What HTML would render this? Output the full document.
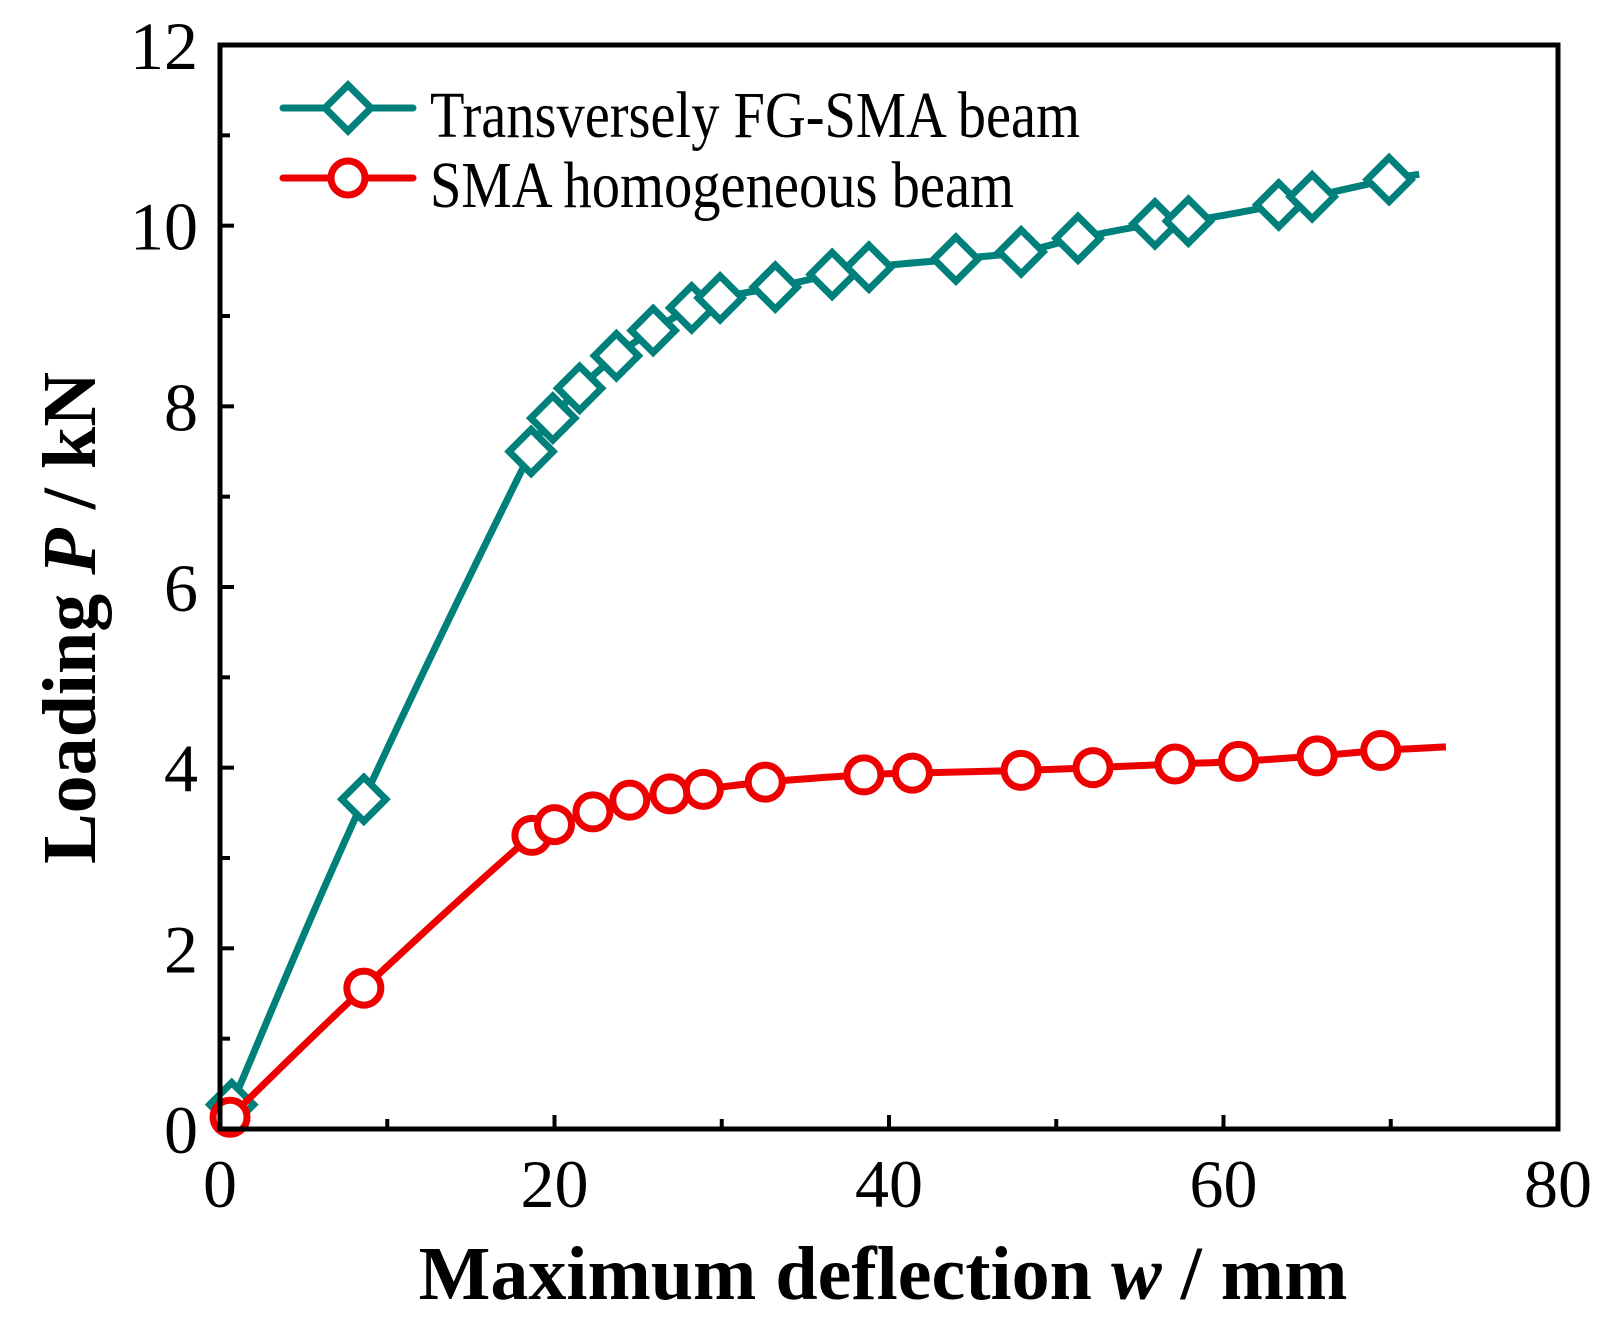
<!DOCTYPE html>
<html><head><meta charset="utf-8"><style>
body{margin:0;background:#fff}
svg text{font-family:"Liberation Serif",serif}
</style></head><body>
<svg id="chart" width="1612" height="1334" viewBox="0 0 1612 1334" xmlns="http://www.w3.org/2000/svg">
<g id="plot"></g>
<rect x="220" y="45" width="1338" height="1084" fill="none" stroke="#000" stroke-width="5"/>
<g id="axes"></g>
<text transform="translate(95,618) rotate(-90)" text-anchor="middle" font-size="76" font-weight="bold">Loading <tspan font-style="italic">P</tspan> / kN</text>
<text x="883" y="1299" text-anchor="middle" font-size="76" font-weight="bold">Maximum deflection <tspan font-style="italic">w</tspan> / mm</text>
<g>
<line x1="283" y1="108" x2="413" y2="108" stroke="#00807a" stroke-width="7" stroke-linecap="round"/>
<polygon points="348,85 371,108 348,131 325,108" fill="#fff" stroke="#00807a" stroke-width="7"/>
<text x="430" y="137" font-size="66" textLength="650" lengthAdjust="spacingAndGlyphs">Transversely FG-SMA beam</text>
<line x1="283" y1="178" x2="413" y2="178" stroke="#ee0000" stroke-width="7" stroke-linecap="round"/>
<circle cx="348" cy="178" r="17" fill="#fff" stroke="#ee0000" stroke-width="7"/>
<text x="430" y="207" font-size="66" textLength="584" lengthAdjust="spacingAndGlyphs">SMA homogeneous beam</text>
</g>
</svg>
<script>
const fgX=[0.7,8.6,18.6,19.9,21.5,23.7,25.9,28.2,29.9,33.2,36.6,38.8,44.0,47.9,51.3,55.9,57.9,63.3,65.3,69.9];
const fgY=[0.27,3.65,7.5,7.87,8.2,8.56,8.84,9.09,9.2,9.32,9.46,9.54,9.63,9.71,9.86,10.02,10.05,10.23,10.32,10.51];
const fgEnd=[71.7,10.57];
const smaX=[0.6,8.6,18.65,20.0,22.3,24.5,26.9,28.9,32.6,38.5,41.4,47.9,52.2,57.1,60.9,65.6,69.4];
const smaY=[0.13,1.56,3.25,3.37,3.51,3.64,3.71,3.76,3.84,3.92,3.94,3.97,4.0,4.04,4.07,4.13,4.19];
const smaEnd=[73.3,4.23];
const xTicks=[0,20,40,60,80];
const yTicks=[0,2,4,6,8,10,12];
const L=220,R=1558,T=45,B=1129;
const sx=v=>L+(v-0)/(80-0)*(R-L);
const sy=v=>B-(v-0)/(12-0)*(B-T);
const NS="http://www.w3.org/2000/svg";
const plot=document.getElementById('plot'),axes=document.getElementById('axes');
function mk(tag,attrs,parent){const e=document.createElementNS(NS,tag);for(const k in attrs)e.setAttribute(k,attrs[k]);parent.appendChild(e);return e;}
function smooth(pts){let d=`M${pts[0][0]},${pts[0][1]}`;for(let i=0;i<pts.length-1;i++){const p0=pts[Math.max(0,i-1)],p1=pts[i],p2=pts[i+1],p3=pts[Math.min(pts.length-1,i+2)];const t=0.2;d+=` C${p1[0]+(p2[0]-p0[0])*t},${p1[1]+(p2[1]-p0[1])*t} ${p2[0]-(p3[0]-p1[0])*t},${p2[1]-(p3[1]-p1[1])*t} ${p2[0]},${p2[1]}`;}return d;}
function series(xs,ys,end,color,kind,name){
  const pts=xs.map((x,i)=>[sx(x),sy(ys[i])]);pts.push([sx(end[0]),sy(end[1])]);
  const p=mk('path',{d:smooth(pts),fill:'none',stroke:color,'stroke-width':7,'stroke-linejoin':'round'},plot);
  
  
  xs.forEach((x,i)=>{const cx=sx(x),cy=sy(ys[i]);let m;
    if(kind==='d')m=mk('polygon',{points:`${cx},${cy-22} ${cx+22},${cy} ${cx},${cy+22} ${cx-22},${cy}`,fill:'#fff',stroke:color,'stroke-width':7},plot);
    else m=mk('circle',{cx:cx,cy:cy,r:17,fill:'#fff',stroke:color,'stroke-width':7},plot);
    
    
  });
}
series(fgX,fgY,fgEnd,'#00807a','d','fg-sma');
series(smaX,smaY,smaEnd,'#ee0000','c','sma-homogeneous');
xTicks.forEach(v=>{const t=mk('text',{x:sx(v),y:1207,'text-anchor':'middle','font-size':68},axes);t.textContent=v;
  
  });
for(let v=10;v<80;v+=10){const l=mk('line',{x1:sx(v),x2:sx(v),y1:B,y2:B-(v%20?10:14),stroke:'#000','stroke-width':4},axes);
  
  }
yTicks.forEach(v=>{const t=mk('text',{x:198,y:sy(v)+24,'text-anchor':'end','font-size':68},axes);t.textContent=v;
  
  });
for(let v=1;v<12;v++){const l=mk('line',{x1:L,x2:L+(v%2?10:14),y1:sy(v),y2:sy(v),stroke:'#000','stroke-width':4},axes);
  
  }
</script>
</body></html>
